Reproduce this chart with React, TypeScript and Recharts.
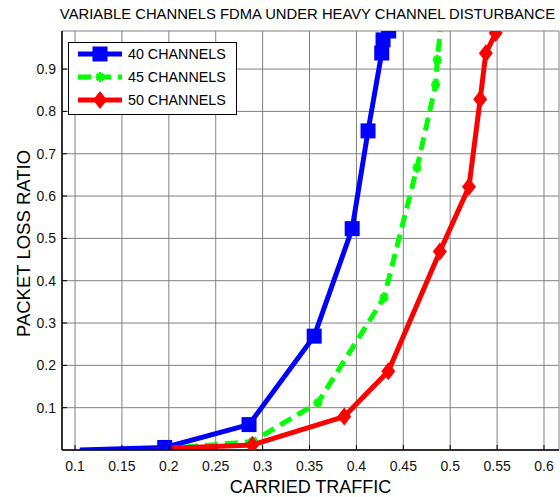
import React from 'react';
import { LineChart, Line, XAxis, YAxis, CartesianGrid } from 'recharts';

// ---- data ----
const seriesNames = ['40 CHANNELS', '45 CHANNELS', '50 CHANNELS'];
const seriesColors = ['#0000ff', '#00ff00', '#ff0000'];

const traffic40 = [0.105, 0.1956, 0.2855, 0.355, 0.3955, 0.4124, 0.427, 0.4284, 0.4344];
const loss40 = [0.0, 0.006, 0.06, 0.269, 0.523, 0.754, 0.938, 0.969, 0.99];

const traffic45 = [0.196, 0.289, 0.359, 0.4294, 0.4646, 0.4845, 0.4862, 0.4895];
const loss45 = [0.003, 0.02, 0.112, 0.36, 0.667, 0.863, 0.922, 0.99];

const traffic50 = [0.187, 0.289, 0.387, 0.434, 0.489, 0.52, 0.532, 0.538, 0.5485];
const loss50 = [0.003, 0.012, 0.079, 0.186, 0.469, 0.622, 0.829, 0.9375, 0.985];

const xTicks = [0.1, 0.15, 0.2, 0.25, 0.3, 0.35, 0.4, 0.45, 0.5, 0.55, 0.6];
const xTickLabels = ['0.1', '0.15', '0.2', '0.25', '0.3', '0.35', '0.4', '0.45', '0.5', '0.55', '0.6'];
const yTicks = [0.1, 0.2, 0.3, 0.4, 0.5, 0.6, 0.7, 0.8, 0.9];
const yTickLabels = ['0.1', '0.2', '0.3', '0.4', '0.5', '0.6', '0.7', '0.8', '0.9'];
const xDomain = [0.0861, 0.616];
const yDomain = [0, 0.99];

const titleText = 'VARIABLE CHANNELS FDMA UNDER HEAVY CHANNEL DISTURBANCE';
const xLabelText = 'CARRIED TRAFFIC';
const yLabelText = 'PACKET LOSS RATIO';

const rows40 = traffic40.map((x, i) => ({ x, y: loss40[i] }));
const rows45 = traffic45.map((x, i) => ({ x, y: loss45[i] }));
const rows50 = traffic50.map((x, i) => ({ x, y: loss50[i] }));

const FONT = '"Liberation Sans", Arial, Helvetica, sans-serif';

// ---- markers ----
const Square = ({ cx, cy, color }: any) => (
  <rect x={cx - 7.5} y={cy - 7.5} width={15} height={15} fill={color} />
);
const Asterisk = ({ cx, cy, color }: any) => (
  <g stroke={color} strokeWidth={2.6}>
    <line x1={cx - 4.5} y1={cy} x2={cx + 4.5} y2={cy} />
    <line x1={cx} y1={cy - 5} x2={cx} y2={cy + 5} />
    <line x1={cx - 3.3} y1={cy - 3.3} x2={cx + 3.3} y2={cy + 3.3} />
    <line x1={cx - 3.3} y1={cy + 3.3} x2={cx + 3.3} y2={cy - 3.3} />
  </g>
);
const Diamond = ({ cx, cy, color }: any) => (
  <polygon
    points={`${cx},${cy - 9} ${cx + 7},${cy} ${cx},${cy + 9} ${cx - 7},${cy}`}
    fill={color}
  />
);

const makeDot = (Shape: any, color: string, skip: number[]) => (props: any) => {
  const { cx, cy, index } = props;
  if (cx == null || cy == null || skip.includes(index)) return <g key={`d${index}`} />;
  return (
    <g key={`d${index}`}>
      <Shape cx={cx} cy={cy} color={color} />
    </g>
  );
};

// ---- ticks ----
const BottomTick = (props: any) => {
  const { x, y, index } = props;
  return (
    <g>
      <line x1={x} x2={x} y1={y} y2={y - 5} stroke="#000" />
      <text x={x} y={y + 21} textAnchor="middle" fontSize={14} fontFamily={FONT} fill="#111">
        {xTickLabels[index]}
      </text>
    </g>
  );
};
const TopTick = (props: any) => {
  const { x, y } = props;
  return <line x1={x} x2={x} y1={y} y2={y + 5} stroke="#000" />;
};
const LeftTick = (props: any) => {
  const { x, y, index } = props;
  return (
    <g>
      <line x1={x} x2={x + 5} y1={y} y2={y} stroke="#000" />
      <text x={x - 6} y={y + 5} textAnchor="end" fontSize={14} fontFamily={FONT} fill="#111">
        {yTickLabels[index]}
      </text>
    </g>
  );
};
const RightTick = (props: any) => {
  const { x, y } = props;
  return <line x1={x} x2={x - 5} y1={y} y2={y} stroke="#000" />;
};

// ---- legend ----
const LegendBox = () => {
  const rowsY = [12, 35, 58];
  const shapes = [Square, Asterisk, Diamond];
  return (
    <svg width={170} height={74} style={{ display: 'block' }}>
      <rect x={0.5} y={0.5} width={168} height={72} fill="#fff" stroke="#000" strokeWidth={1} />
      {seriesNames.map((name, i) => {
        const Shape = shapes[i];
        return (
          <g key={name}>
            <line
              x1={10}
              x2={54}
              y1={rowsY[i]}
              y2={rowsY[i]}
              stroke={seriesColors[i]}
              strokeWidth={5}
              strokeDasharray={i === 1 ? '13 7' : undefined}
            />
            <Shape cx={32} cy={rowsY[i]} color={seriesColors[i]} />
            <text x={60} y={rowsY[i] + 5} fontSize={14.3} fontFamily={FONT} fill="#000">
              {name}
            </text>
          </g>
        );
      })}
    </svg>
  );
};

export default function App() {
  return (
    <div style={{ position: 'absolute', left: 0, top: 0, width: 560, height: 497, background: '#fff' }}>
      <div
        style={{
          position: 'absolute',
          left: 0,
          top: 6,
          width: 615,
          textAlign: 'center',
          fontFamily: FONT,
          fontSize: 14.8,
          lineHeight: '17px',
          color: '#000',
          whiteSpace: 'nowrap',
          zIndex: 2,
        }}
      >
        {titleText}
      </div>
      <LineChart
        width={560}
        height={497}
        margin={{ top: 31, right: 1, bottom: 0, left: 0 }}
        style={{ fontFamily: FONT }}
      >
        <CartesianGrid stroke="#808080" strokeWidth={1} />
        <XAxis
          dataKey="x"
          type="number"
          domain={xDomain}
          ticks={xTicks}
          allowDataOverflow
          height={47}
          tickSize={0}
          tickMargin={0}
          tickLine={false}
          tick={BottomTick}
          axisLine={{ stroke: '#000', strokeWidth: 1.5 }}
          interval={0}
          label={{
            value: xLabelText,
            position: 'insideBottom',
            offset: 4,
            style: { fontSize: 18, fontFamily: FONT, fill: '#000' },
          }}
        />
        <XAxis
          xAxisId="top"
          orientation="top"
          type="number"
          domain={xDomain}
          ticks={xTicks}
          allowDataOverflow
          height={0}
          tickSize={0}
          tickMargin={0}
          tickLine={false}
          tick={TopTick}
          axisLine={{ stroke: '#000', strokeWidth: 1 }}
          interval={0}
        />
        <YAxis
          type="number"
          domain={yDomain}
          ticks={yTicks}
          allowDataOverflow
          width={62}
          tickSize={0}
          tickMargin={0}
          tickLine={false}
          tick={LeftTick}
          axisLine={{ stroke: '#000', strokeWidth: 1.5 }}
          interval={0}
          label={{
            content: (p: any) => {
              const vb = p.viewBox || { x: 0, y: 31, width: 62, height: 419 };
              const cx = 30;
              const cy = vb.y + vb.height / 2 + 3;
              return (
                <text
                  x={cx}
                  y={cy}
                  transform={`rotate(-90 ${cx} ${cy})`}
                  textAnchor="middle"
                  fontSize={18.5}
                  fontFamily={FONT}
                  fill="#000"
                >
                  {yLabelText}
                </text>
              );
            },
          }}
        />
        <YAxis
          yAxisId="right"
          orientation="right"
          type="number"
          domain={yDomain}
          ticks={yTicks}
          allowDataOverflow
          width={0}
          tickSize={0}
          tickMargin={0}
          tickLine={false}
          tick={RightTick}
          axisLine={{ stroke: '#000', strokeWidth: 1 }}
          interval={0}
        />
        <Line
          data={rows40}
          dataKey="y"
          name={seriesNames[0]}
          stroke={seriesColors[0]}
          strokeWidth={5}
          dot={makeDot(Square, seriesColors[0], [0])}
          activeDot={false}
          isAnimationActive={false}
        />
        <Line
          data={rows45}
          dataKey="y"
          name={seriesNames[1]}
          stroke={seriesColors[1]}
          strokeWidth={5}
          strokeDasharray="13 7"
          dot={makeDot(Asterisk, seriesColors[1], [0, 7])}
          activeDot={false}
          isAnimationActive={false}
        />
        <Line
          data={rows50}
          dataKey="y"
          name={seriesNames[2]}
          stroke={seriesColors[2]}
          strokeWidth={5}
          dot={makeDot(Diamond, seriesColors[2], [0])}
          activeDot={false}
          isAnimationActive={false}
        />
      </LineChart>
      <div style={{ position: 'absolute', left: 68, top: 42, zIndex: 3 }}>
        <LegendBox />
      </div>
    </div>
  );
}
